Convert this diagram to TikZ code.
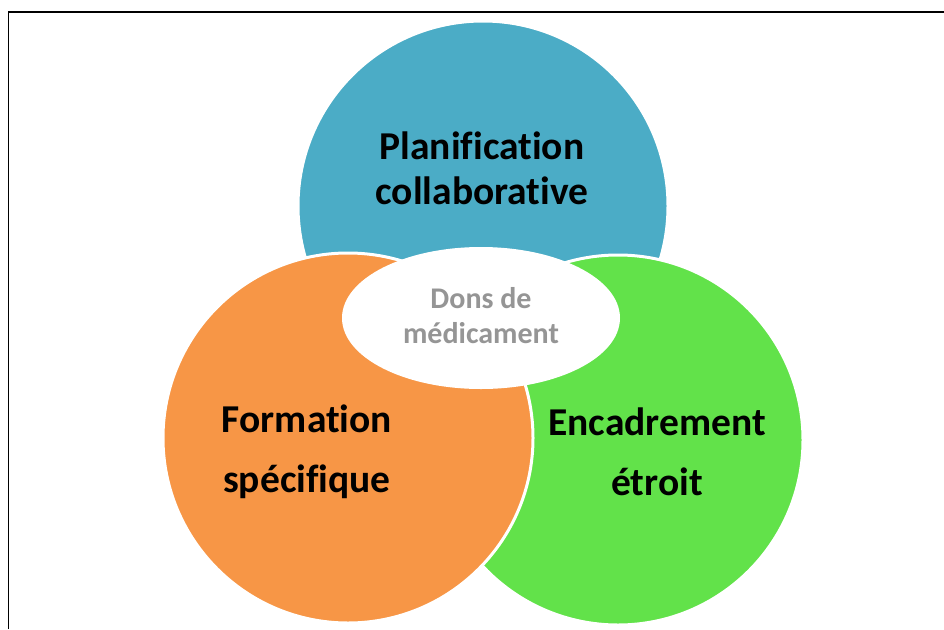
\documentclass[tikz,border=0pt]{standalone}
\usepackage{fontspec}
\setmainfont{Carlito}[Ligatures=NoCommon]
\usepackage{xcolor}
\usetikzlibrary{shapes.geometric}

\definecolor{planblue}{HTML}{4BACC6}
\definecolor{formorange}{HTML}{F79646}
\definecolor{encgreen}{HTML}{62E24A}
\definecolor{donsgray}{HTML}{959595}

\begin{document}
\begin{tikzpicture}[
    x=1pt, y=-1pt,
    disc/.style={circle, draw=white, line width=3pt, minimum size=370pt, inner sep=0pt},
    hub/.style={ellipse, draw=white, line width=2pt, fill=white, minimum width=276pt, minimum height=140pt, inner sep=0pt},
    theme/.style={align=center, inner sep=0pt, font=\fontsize{39.5}{45}\selectfont\bfseries},
    themelow/.style={theme, font=\fontsize{39.5}{60}\selectfont\bfseries},
    hubtext/.style={align=center, inner sep=0pt, text=donsgray, font=\fontsize{30}{35}\selectfont\bfseries},
]
\useasboundingbox (0,0) rectangle (944,629);

% frame
\coordinate (fbl) at (8.5,629);
\coordinate (ftl) at (8.5,12);
\coordinate (ftr) at (944,12);
\draw[line width=1.5pt] (fbl) -- (ftl) -- (ftr);

% circles
\node[disc, fill=planblue] (plan) at (483,206) {};
\node[disc, fill=encgreen] (enc) at (618,440) {};
\node[disc, fill=formorange] (form) at (348,438) {};

% centre
\node[hub] (dons) at (481,318) {};

% texts
\node[theme] (plantxt) at (482,168) {Planification\\collaborative};
\node[themelow] (formtxt) at (307,452) {Formation\\spécifique};
\node[themelow] (enctxt) at (657,452) {Encadrement\\étroit};
\node[hubtext] (donstxt) at (481,316) {Dons de\\médicament};

\end{tikzpicture}
\end{document}
